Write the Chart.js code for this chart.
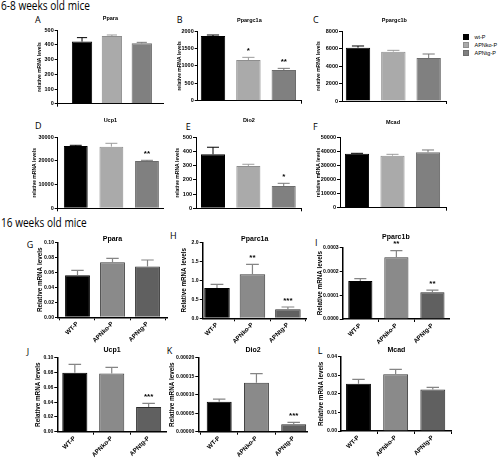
<!DOCTYPE html>
<html><head><meta charset="utf-8">
<script src="https://cdn.jsdelivr.net/npm/chart.js@4.4.1/dist/chart.umd.min.js"></script>
<style>
html,body{margin:0;padding:0;background:#fff;}
body{width:500px;height:459px;position:relative;overflow:hidden;}
canvas{position:absolute;}
.txt{position:absolute;white-space:nowrap;color:#000;}
.sec{font-family:'Open Sans',sans-serif;font-size:12px;line-height:12px;transform:scaleX(0.84);transform-origin:0 0;}
.letter{font-family:'Open Sans',sans-serif;font-size:9px;line-height:9px;}
.leg{font-family:'Liberation Sans',Arial,sans-serif;font-size:5.5px;line-height:6px;}
.sw{position:absolute;width:6.5px;height:5.5px;box-sizing:border-box;}
</style></head><body>
<script>
// ---------- data ----------
const GROUPS_TOP = ['wt-P', 'APNko-P', 'APNtg-P'];
const GROUPS_BOTTOM = ['WT-P', 'APNko-P', 'APNtg-P'];
const SECTIONS = ['6-8 weeks old mice', '16 weeks old mice'];
const LETTERS = ['A','B','C','D','E','F','G','H','I','J','K','L'];
const GENES = ['Ppara','Ppargc1a','Ppargc1b','Ucp1','Dio2','Mcad','Ppara','Pparc1a','Pparc1b','Ucp1','Dio2','Mcad'];
const Y_TITLES = ['relative mRNA levels', 'Relative mRNA levels'];

const MEAN_A = [423, 461, 411];          const SEM_A = [27, 7, 7];
const MEAN_B = [1856, 1167, 880];        const SEM_B = [29, 77, 48];
const MEAN_C = [6095, 5638, 4914];       const SEM_C = [191, 152, 457];
const MEAN_D = [26338, 26056, 20000];    const SEM_D = [282, 1409, 282];
const MEAN_E = [380, 298, 157];          const SEM_E = [50, 12, 19];
const MEAN_F = [38389, 36967, 39336];    const SEM_F = [237, 948, 1664];
const MEAN_G = [0.0560, 0.0733, 0.0676]; const SEM_G = [0.0067, 0.0054, 0.0088];
const MEAN_H = [0.798, 1.158, 0.237];    const SEM_H = [0.097, 0.263, 0.061];
const MEAN_I = [0.000159, 0.000258, 0.000112]; const SEM_I = [0.000010, 0.000028, 0.000009];
const MEAN_J = [0.0797, 0.0788, 0.0333]; const SEM_J = [0.0113, 0.0081, 0.0050];
const MEAN_K = [0.0000811, 0.0001324, 0.0000198]; const SEM_K = [0.0000072, 0.0000244, 0.0000054];
const MEAN_L = [0.0255, 0.0305, 0.0224]; const SEM_L = [0.0023, 0.0027, 0.0011];

const STARS_A = ['', '', ''];   const STARS_B = ['', '*', '**'];  const STARS_C = ['', '', ''];
const STARS_D = ['', '', '**']; const STARS_E = ['', '', '*'];    const STARS_F = ['', '', ''];
const STARS_G = ['', '', ''];   const STARS_H = ['', '**', '***']; const STARS_I = ['', '**', '**'];
const STARS_J = ['', '', '***']; const STARS_K = ['', '', '***']; const STARS_L = ['', '', ''];

const Y_MAX  = [500, 2000, 8000, 30000, 500, 50000, 0.10, 2.0, 0.0003, 0.10, 0.0002, 0.04];
const Y_STEP = [100, 500, 2000, 10000, 100, 10000, 0.02, 0.5, 0.0001, 0.02, 0.00005, 0.01];
const Y_DEC  = [0, 0, 0, 0, 0, 0, 2, 1, 4, 2, 5, 2];

const MEANS = [MEAN_A, MEAN_B, MEAN_C, MEAN_D, MEAN_E, MEAN_F, MEAN_G, MEAN_H, MEAN_I, MEAN_J, MEAN_K, MEAN_L];
const SEMS  = [SEM_A, SEM_B, SEM_C, SEM_D, SEM_E, SEM_F, SEM_G, SEM_H, SEM_I, SEM_J, SEM_K, SEM_L];
const STARS = [STARS_A, STARS_B, STARS_C, STARS_D, STARS_E, STARS_F, STARS_G, STARS_H, STARS_I, STARS_J, STARS_K, STARS_L];

// ---------- layout (page pixels) ----------
const GEOM = [
 {row:'top', axisX:57.7, top:30.3, right:163,   bottom:103.7, yTitleX:40,  xMin:0.186, xMax:3.71,  titleY:18.3, barPct:0.68, letter:[35,16.7]},
 {row:'top', axisX:197.7,top:31,   right:301,   bottom:100.7, yTitleX:180, xMin:0.568, xMax:3.486, titleY:20.5, barPct:0.69, letter:[176.7,17]},
 {row:'top', axisX:342,  top:31,   right:446.7, bottom:101,   yTitleX:319, xMin:0.547, xMax:3.51,  titleY:20,   barPct:0.69, letter:[313,17]},
 {row:'top', axisX:57.7, top:137.3,right:163,   bottom:208.3, yTitleX:35,  xMin:0.492, xMax:3.45,  titleY:120.3,barPct:0.67, letter:[35,123]},
 {row:'top', axisX:196,  top:137.3,right:301.7, bottom:208.3, yTitleX:178, xMin:0.519, xMax:3.509, titleY:120.3,barPct:0.68, letter:[185.7,124]},
 {row:'top', axisX:340,  top:137.3,right:446,   bottom:207.7, yTitleX:319, xMin:0.521, xMax:3.507, titleY:122,  barPct:0.68, letter:[313,124]},
 {row:'bottom', axisX:58,   top:242.3,right:167,   bottom:317.3, yTitleX:40,  xMin:0.443, xMax:3.557, titleY:239.2,barPct:0.71, letter:[26.7,241.7]},
 {row:'bottom', axisX:202.7,top:242.3,right:306.7, bottom:318.3, yTitleX:184, xMin:0.597, xMax:3.53,  titleY:239,  barPct:0.72, letter:[170,233]},
 {row:'bottom', axisX:342.7,top:247.3,right:449,   bottom:319,   yTitleX:320, xMin:0.511, xMax:3.46,  titleY:236.7,barPct:0.67, letter:[315,240]},
 {row:'bottom', axisX:57.3, top:357.7,right:166.7, bottom:431.7, yTitleX:38,  xMin:0.525, xMax:3.49,  titleY:350.5,barPct:0.68, letter:[26.7,349]},
 {row:'bottom', axisX:198.3,top:357.7,right:307.7, bottom:431.7, yTitleX:172, xMin:0.439, xMax:3.376, titleY:350,  barPct:0.67, letter:[166.7,347.7]},
 {row:'bottom', axisX:341,  top:356.7,right:451.7, bottom:431,   yTitleX:321, xMin:0.529, xMax:3.509, titleY:350.5,barPct:0.67, letter:[317.7,347.7]}
];

const STYLE = {
 top: {fill:['#000000','#aaaaaa','#808080'], edge:['#000000','#8e8e8e','#6c6c6c'], err:['#000000','#9c9c9c','#777777'],
       tick:5.5, yTitle:5, title:5.5, star:8, axisW:1, errW:1, xh:6, xFont:5.5, labels:null, yTitleText:Y_TITLES[0]},
 bottom: {fill:['#000000','#8a8a8a','#606060'], edge:['#000000','#3c3c3c','#2c2c2c'], err:['#858585','#858585','#858585'],
       tick:5.1, yTitle:6.3, title:7, star:8, axisW:1.5, errW:1.2, xh:30, xFont:6.2, labels:GROUPS_BOTTOM, yTitleText:Y_TITLES[1]}
};
const FONT = "'Liberation Sans', Arial, sans-serif";

// ---------- static text ----------
function addText(cls, text, x, y) {
  const d = document.createElement('div');
  d.className = 'txt ' + cls; d.textContent = text;
  d.style.left = x + 'px'; d.style.top = y + 'px';
  document.body.appendChild(d); return d;
}
addText('sec', SECTIONS[0], 1, 0);
addText('sec', SECTIONS[1], 1, 217);
LETTERS.forEach((l, i) => addText('letter', l, GEOM[i].letter[0], GEOM[i].letter[1] - 1.6));
// legend
const LEG_Y = [34, 42, 50];
GROUPS_TOP.forEach((g, i) => {
  const s = document.createElement('div');
  s.className = 'sw'; s.style.left = '462.5px'; s.style.top = LEG_Y[i] + 'px';
  s.style.background = STYLE.top.fill[i]; s.style.border = '0.5px solid ' + STYLE.top.edge[i];
  document.body.appendChild(s);
  addText('leg', g, 474.5, LEG_Y[i]);
});

// ---------- charts ----------
function extrasPlugin(idx, g, st, ct) {
  return {
    id: 'extras' + idx,
    afterDatasetsDraw(chart) {
      const ctx = chart.ctx, ys = chart.scales.y, ca = chart.chartArea;
      const meta = chart.getDatasetMeta(0);
      ctx.save();
      meta.data.forEach((bar, i) => {
        const tip = ys.getPixelForValue(MEANS[idx][i] + SEMS[idx][i]);
        const capW = bar.width * 0.5;
        ctx.strokeStyle = st.err[i]; ctx.lineWidth = st.errW;
        ctx.beginPath();
        ctx.moveTo(bar.x, bar.y); ctx.lineTo(bar.x, tip);
        ctx.moveTo(bar.x - capW / 2, tip); ctx.lineTo(bar.x + capW / 2, tip);
        ctx.stroke();
        const s = STARS[idx][i];
        if (s) {
          ctx.fillStyle = '#000'; ctx.font = 'bold ' + st.star + 'px ' + FONT;
          ctx.textAlign = 'center'; ctx.textBaseline = 'alphabetic';
          ctx.fillText(s, bar.x, tip - 9 + st.star * 0.58);
        }
      });
      ctx.fillStyle = '#000';
      ctx.font = 'bold ' + st.title + 'px ' + FONT;
      ctx.textAlign = 'center'; ctx.textBaseline = 'middle';
      ctx.fillText(GENES[idx], (ca.left + ca.right) / 2, g.titleY - ct);
      ctx.restore();
    }
  };
}

GEOM.forEach((g, idx) => {
  const st = STYLE[g.row];
  const lh = st.yTitle * 1.2;
  const cl = Math.round(g.yTitleX - lh / 2);
  const ct = Math.round(g.titleY - 10);
  const RP = 4;
  const W = Math.ceil(g.right + RP - cl);
  const H = Math.ceil(g.bottom + st.xh - ct);
  const yw = g.axisX - cl;
  const tp = g.top - ct;
  const rp = W - (g.right - cl);
  const xh = H - (g.bottom - ct);

  const cv = document.createElement('canvas');
  cv.width = W; cv.height = H;
  cv.style.left = cl + 'px'; cv.style.top = ct + 'px';
  cv.style.width = W + 'px'; cv.style.height = H + 'px';
  document.body.appendChild(cv);

  const tickVals = st.labels ? [1, 2, 3] : [2];
  new Chart(cv, {
    type: 'bar',
    data: {
      datasets: [{
        data: MEANS[idx].map((v, i) => ({ x: i + 1, y: v })),
        backgroundColor: st.fill,
        borderColor: st.edge,
        borderWidth: 1,
        categoryPercentage: 1,
        barPercentage: g.barPct
      }]
    },
    options: {
      responsive: false, animation: false, devicePixelRatio: 1,
      layout: { padding: { left: 0, top: tp, right: rp, bottom: 0 } },
      plugins: { legend: { display: false }, tooltip: { enabled: false }, title: { display: false } },
      scales: {
        x: {
          type: 'linear', min: g.xMin, max: g.xMax, offset: false,
          afterBuildTicks: s => { s.ticks = tickVals.map(v => ({ value: v })); },
          afterFit: s => { s.height = xh; },
          grid: { display: true, drawOnChartArea: false, drawTicks: true, tickLength: 3, color: '#000', lineWidth: 1 },
          border: { display: true, color: '#000', width: st.axisW },
          ticks: {
            display: !!st.labels, autoSkip: false, minRotation: 45, maxRotation: 45, padding: 0,
            font: { family: FONT, size: st.xFont, weight: 'bold' }, color: '#000',
            callback: v => st.labels ? st.labels[Math.round(v) - 1] : ''
          }
        },
        y: {
          type: 'linear', min: 0, max: Y_MAX[idx],
          afterFit: s => { s.width = yw; },
          grid: { display: true, drawOnChartArea: false, drawTicks: true, tickLength: 3, color: '#000', lineWidth: 1 },
          border: { display: true, color: '#000', width: st.axisW },
          ticks: {
            stepSize: Y_STEP[idx], padding: 1, color: '#000',
            font: { family: FONT, size: st.tick, weight: 'bold' },
            callback: v => Number(v).toFixed(Y_DEC[idx])
          },
          title: {
            display: true, text: st.yTitleText, color: '#000', padding: 0,
            font: { family: FONT, size: st.yTitle, weight: 'bold' }
          }
        }
      }
    },
    plugins: [extrasPlugin(idx, g, st, ct)]
  });
});
</script></body></html>
